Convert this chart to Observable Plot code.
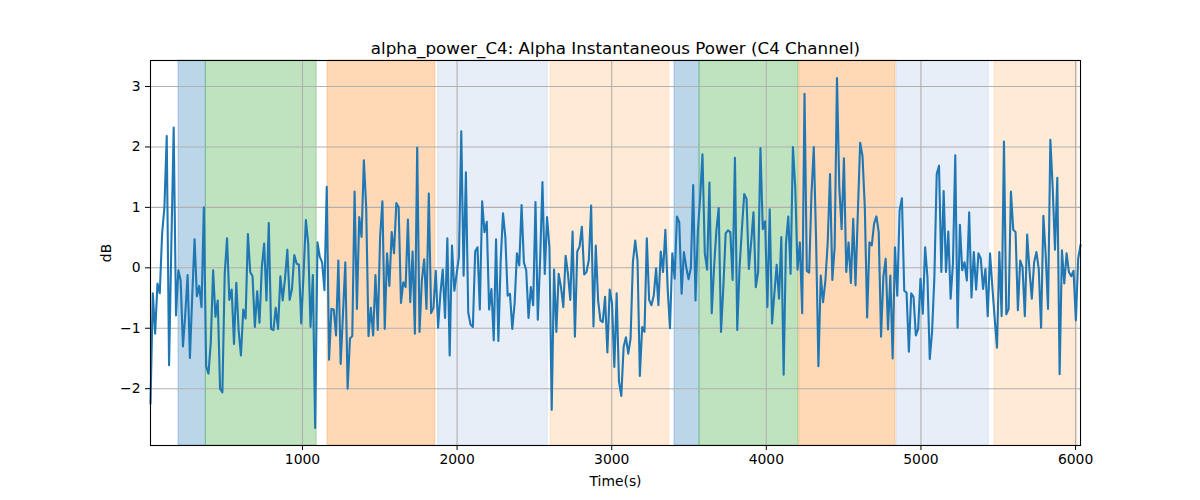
<!DOCTYPE html>
<html><head><meta charset="utf-8">
<script src="https://cdn.jsdelivr.net/npm/d3@7"></script>
<script src="https://cdn.jsdelivr.net/npm/@observablehq/plot@0.6"></script>
<style>body{margin:0;background:#fff;}</style>
</head><body><div id="chart"></div>
<script>
const chartTitle = "alpha_power_C4: Alpha Instantaneous Power (C4 Channel)";
const xLabel = "Time(s)";
const yLabel = "dB";
const xTicks = [1000, 2000, 3000, 4000, 5000, 6000];
const yTicks = [-2, -1, 0, 1, 2, 3];
const startTime = 17;
const stepSec = 15;

const alphaPower = [
  -2.25, -0.42, -1.09, -0.26, -0.42, 0.56, 1.0, 2.18, -1.61, 0.4, 2.32, -0.79, -0.04, -0.21, -1.3, -0.76, -0.12, -1.49, -0.46, 0.47, -0.47, -0.3, -0.65, 1.0, -1.63, -1.75, -1.23, -0.04, -0.81, -0.54, -2.0, -2.06, -0.1, 0.49, -0.53, -0.36, -1.26, -0.25, -1.03, -1.45, -0.69, -0.84, 0.56, -0.07,
  -0.14, -0.98, -0.39, -0.91, 0.01, 0.4, -0.54, 0.74, -1.01, -1.03, -0.66, -1.01, -0.14, -0.54, -0.18, 0.3, -0.53, -0.35, 0.21, 0.07, 0.05, -0.92, -0.1, 0.79, 0.4, -0.98, -0.12, -2.65, 0.42, 0.18, 0.09, -0.37, 1.34, -1.52, -0.68, -0.69, -1.12, 0.12, -1.59, -0.76, 0.09, -2.0, -1.17, -1.13, 1.26, -0.68,
  0.84, 0.51, 1.78, 1.0, -1.13, -0.66, -1.12, -0.12, -1.03, 0.51, 1.1, -1.01, 0.24, -0.3, 0.59, 0.24, 1.07, 1.0, -0.58, -0.24, -0.32, 0.8, -0.57, 0.27, -1.09, 1.99, -1.06, -0.21, 0.14, -0.68, 1.23, -0.75, -0.66, -0.05, -0.99, -0.43, -0.03, -0.83, 0.49, -1.45, 0.37, -0.38, -0.1, 0.18, 2.26,
  -0.13, 1.58, -0.74, -0.94, -0.98, 0.27, 0.34, -0.69, 1.1, 0.59, 0.76, -0.69, -0.35, -1.2, 0.47, -1.21, 0.12, 0.9, 0.51, -0.46, -0.43, -1.01, -0.59, 0.24, 0.04, 1.04, 0.09, -0.04, -0.83, -0.32, -0.62, 1.09, -0.86, 0.13, 1.42, -0.1, 0.84, 0.34, -2.35, -0.03, -1.06, -0.1, -0.32, -0.65,
  0.2, -0.1, -0.53, 0.6, -1.14, 0.27, 0.35, 0.68, -0.11, -0.07, 0.13, 1.03, -0.97, 0.37, -0.54, -0.87, -0.9, -0.48, -1.4, -0.36, -0.59, -1.64, -0.42, -1.88, -2.12, -1.31, -1.15, -1.42, -1.17, 0.09, 0.45, 0.12, -1.79, -0.98, -1.06, 0.49, -0.53, -0.62, -0.46, -0.01, -0.62, 0.27, -0.07, 0.63, -0.35,
  -1.0, 0.24, -0.18, 0.85, 0.75, -0.43, 0.26, 0.01, -0.19, 0.0, 1.37, -0.54, 0.6, 1.16, 1.88, 0.24, -0.03, 1.41, -0.75, 0.01, 0.62, 0.99, -1.06, -0.32, 0.57, 0.62, 0.59, -0.2, 1.82, -1.03, 0.01, 0.64, 1.22, 1.14, -0.02, 0.42, 0.92, -0.32, -0.07, 1.98, 0.64, 0.77, -0.65, 0.97, -0.92,
  -0.43, 0.05, -0.51, 0.51, -1.77, 0.4, 0.85, -0.1, 2.0, 1.33, -0.03, 0.42, -0.75, 2.88, -0.05, -0.08, 1.22, 2.0, 0.45, -1.63, -0.13, -0.57, -0.21, 0.42, 1.55, -0.2, 0.34, 3.14, 1.33, 0.64, 1.81, -0.07, 0.42, -0.25, 0.81, -0.29, 0.92, 2.07, 1.85, 1.0, -0.82, 0.42, 0.37, 0.73, 0.85,
  0.59, -1.14, -0.15, 0.15, -1.02, -0.13, -1.5, 0.34, -0.46, 0.95, 1.15, -0.38, -0.41, -1.39, -0.42, -0.48, -1.12, -1.01, -0.18, -0.76, 0.34, -0.15, -1.51, -1.06, -0.15, 1.55, 1.69, -0.07, 1.27, -0.07, 0.6, -0.51, 0.07, 1.86, -0.99, 0.71, -0.04, 0.09, -0.21, 0.92, -0.49, 0.26, -0.36, 0.24, 0.15,
  -0.35, -0.02, -0.8, 0.24, -0.32, -0.84, -1.32, 0.26, -0.8, 2.09, -0.77, -0.68, 1.26, 0.63, 0.59, -0.7, 0.12, 0.01, -0.8, 0.55, -0.04, -0.51, 0.09, 0.26, -0.02, -0.99, 0.86, 0.2, -0.68, 2.12, 1.33, 0.3, 1.49, -1.76, 0.29, -0.26, 0.24, -0.07, -0.14, -0.05, -0.87, 0.15, 0.38
];

const bandStart = [198, 375, 1162, 1877, 2604, 3406, 3568, 4213, 4842, 5476];
const bandEnd   = [375, 1092, 1860, 2587, 3372, 3568, 4208, 4836, 5439, 6013];
const bandType  = ["A", "B", "C", "D", "E", "A", "B", "C", "D", "E"];
const typeNames  = ["A", "B", "C", "D", "E"];
const typeColors = ["#1f77b4", "#2ca02c", "#ff7f0e", "#aec7e8", "#ffbb78"];

const series = alphaPower.map((v, i) => ({t: startTime + i * stepSec, v}));
const bands = bandStart.map((s, i) => ({start: s, end: bandEnd[i], type: bandType[i]}));
const fmt = d => d < 0 ? "\u2212" + Math.abs(d) : String(d);

const chart = Plot.plot({
  width: 1200, height: 500,
  marginLeft: 150, marginRight: 120, marginTop: 60, marginBottom: 55,
  style: {fontFamily: "DejaVu Sans", fontSize: "13.9px", background: "white", color: "black"},
  x: {domain: [17, 6032]},
  y: {domain: [-2.94, 3.43]},
  color: {domain: typeNames, range: typeColors},
  marks: [
    Plot.rect(bands, {x1: "start", x2: "end", fill: "type", fillOpacity: 0.3, stroke: "type", strokeOpacity: 0.3}),
    Plot.gridX(xTicks, {stroke: "#b0b0b0", strokeOpacity: 1, strokeWidth: 1.1}),
    Plot.gridY(yTicks, {stroke: "#b0b0b0", strokeOpacity: 1, strokeWidth: 1.1}),
    Plot.line(series, {x: "t", y: "v", stroke: "#1f77b4", strokeWidth: 2.1}),
    Plot.frame({stroke: "black", strokeWidth: 1.1}),
    Plot.axisX(xTicks, {tickSize: 5, tickPadding: 4, tickFormat: fmt, label: xLabel, labelAnchor: "center", labelArrow: "none", labelOffset: 40}),
    Plot.axisY(yTicks, {tickSize: 5, tickPadding: 5, tickFormat: fmt, label: yLabel, labelAnchor: "center", labelArrow: "none", labelOffset: 49}),
    Plot.text([chartTitle], {frameAnchor: "top", lineAnchor: "bottom", dy: -7, fontSize: 16.7})
  ]
});
document.getElementById("chart").appendChild(chart);
</script>
</body></html>
